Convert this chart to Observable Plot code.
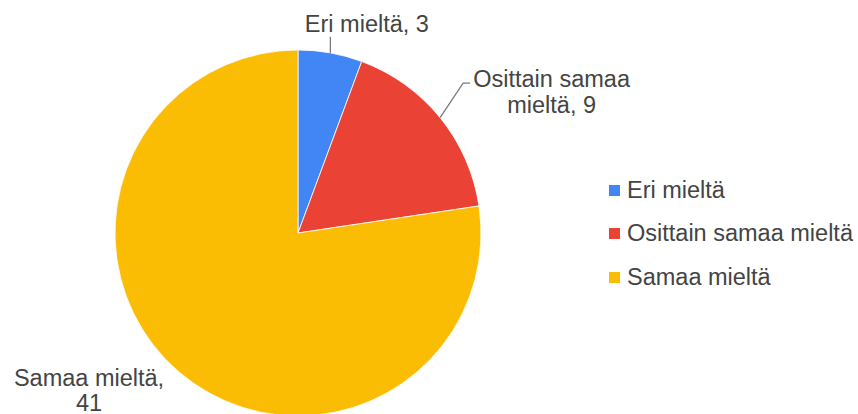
<!DOCTYPE html>
<html><head><meta charset="utf-8">
<script src="https://cdn.jsdelivr.net/npm/d3@7"></script>
<script src="https://cdn.jsdelivr.net/npm/@observablehq/plot@0.6"></script>
<style>
body{margin:0;background:#fff;}
#wrap{position:relative;width:858px;height:414px;overflow:hidden;font-family:"Liberation Sans",Arial,sans-serif;}
.item{position:absolute;white-space:nowrap;font-size:23.5px;color:#444;display:flex;align-items:center;height:28px;line-height:28px;}
.sw{width:11px;height:11px;margin-right:7px;flex:none;}
</style></head><body><div id="wrap"></div>
<script>
// ---- data ----
const categories = ["Eri mieltä", "Osittain samaa mieltä", "Samaa mieltä"];
const values = [3, 9, 41];
const colors = ["#4285F4", "#EA4335", "#FBBC04"];
const labelLines = [["Eri mieltä, 3"], ["Osittain samaa", "mieltä, 9"], ["Samaa mieltä,", "41"]];

// ---- layout (pixel offsets, not data) ----
const labelOffsets = [{dx: 36, dy: -30}, {dx: 111, dy: -26.5}, {dx: -90, dy: 18.5}];
const leaders = [[[0, 0], [0, -16]], [[0, 0], [23, -34.5], [30, -34.5]], null];
const legendY = [190, 233, 277];

const rows = categories.map((c, i) => ({category: c, value: values[i], color: colors[i]}));
const arcs = d3.pie().sort(null).value(d => d.value)(rows);
arcs.forEach(a => {
  a.mid = (a.startAngle + a.endAngle) / 2;
  a.ex = Math.sin(a.mid);
  a.ey = Math.cos(a.mid);
});

function pieMark(index, scales) {
  const cx = scales.x(0), cy = scales.y(0);
  const R = scales.x(1) - scales.x(0);
  const g = d3.create("svg:g").attr("transform", `translate(${cx},${cy})`);
  const arcGen = d3.arc().innerRadius(0).outerRadius(R);
  g.selectAll("path").data(arcs).join("path")
    .attr("d", arcGen)
    .attr("fill", d => d.data.color)
    .attr("stroke", "#fff")
    .attr("stroke-width", 0.8);
  arcs.forEach((a, i) => {
    if (!leaders[i]) return;
    const px = R * a.ex, py = -R * a.ey;
    g.append("path")
      .attr("d", d3.line()(leaders[i].map(([x, y]) => [px + x, py + y])))
      .attr("fill", "none")
      .attr("stroke", "#7a7a7a")
      .attr("stroke-width", 1.3);
  });
  return g.node();
}

const labelMarks = arcs.map((a, i) => Plot.text([a], {
  x: d => d.ex,
  y: d => d.ey,
  text: () => labelLines[i].join("\n"),
  dx: labelOffsets[i].dx,
  dy: labelOffsets[i].dy,
  fontSize: 23.5,
  fill: "#444",
  lineHeight: 1.08,
  textAnchor: "middle",
  lineAnchor: "middle"
}));

const plot = Plot.plot({
  width: 858,
  height: 414,
  margin: 0,
  style: {fontFamily: "'Liberation Sans', Arial, sans-serif", background: "transparent", overflow: "visible"},
  x: {domain: [-1, 1], range: [115, 481], axis: null},
  y: {domain: [-1, 1], range: [416, 50], axis: null},
  marks: [pieMark, ...labelMarks]
});

const wrap = document.getElementById("wrap");
wrap.appendChild(plot);

categories.forEach((c, i) => {
  const it = document.createElement("div");
  it.className = "item";
  it.style.left = "609px";
  it.style.top = (legendY[i] - 14) + "px";
  it.innerHTML = `<span class="sw" style="background:${colors[i]}"></span><span>${c}</span>`;
  wrap.appendChild(it);
});
</script>
</body></html>
